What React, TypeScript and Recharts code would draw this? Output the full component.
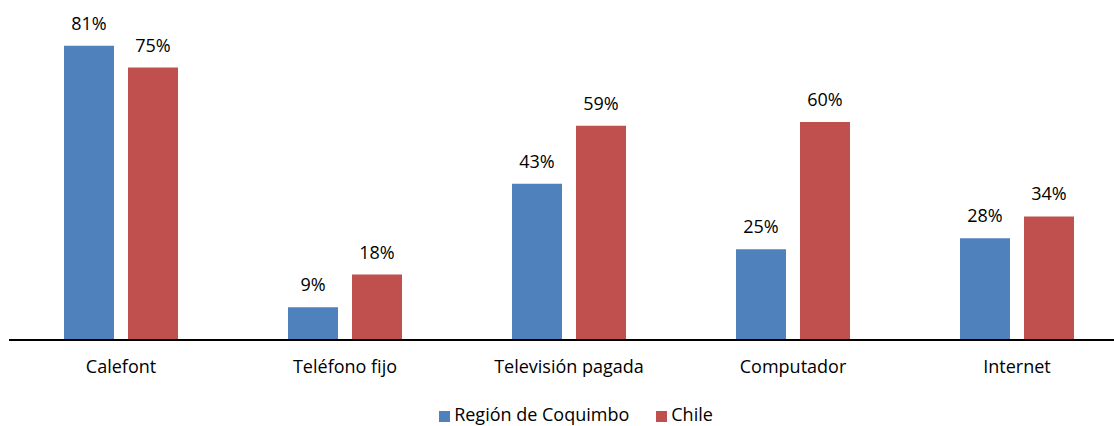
import React from 'react';
import { BarChart, Bar, XAxis, YAxis, Legend, LabelList } from 'recharts';

const categories = ['Calefont', 'Teléfono fijo', 'Televisión pagada', 'Computador', 'Internet'];
const coquimbo = [81, 9, 43, 25, 28];
const chile = [75, 18, 59, 60, 34];
const seriesOrder = ['coquimbo', 'chile'];

const data = categories.map((name, i) => ({
  name,
  coquimbo: coquimbo[i],
  chile: chile[i],
}));

const FONT = '"Open Sans", Calibri, sans-serif';

const App: React.FC = () => {
  return (
    <div style={{ position: 'absolute', left: 0, top: 0, width: 1114, height: 426, overflow: 'hidden', background: '#fff' }}>
      <BarChart
        width={1130}
        height={426}
        data={data}
        margin={{ top: 13, right: 1, left: 9, bottom: 46 }}
        barSize={50}
        barGap={14}
      >
        <XAxis
          dataKey="name"
          axisLine={{ stroke: '#000', strokeWidth: 2 }}
          tickLine={false}
          tickSize={0}
          tickMargin={20}
          height={40}
          interval={0}
          tick={{ fill: '#000', fontSize: 18, fontFamily: FONT }}
        />
        <YAxis hide domain={[0, 90]} />
        <Legend
          layout="horizontal"
          verticalAlign="middle"
          align="center"
          iconType="square"
          iconSize={11}
          itemSorter={(item: any) => seriesOrder.indexOf(item.dataKey)}
          wrapperStyle={{ top: 404, left: 0, width: 1162, fontFamily: FONT, fontSize: 18, lineHeight: '20px' }}
          formatter={(value, entry, index) => (
            <span style={{ color: '#000', marginRight: index === 0 ? 17 : 0 }}>{value}</span>
          )}
        />
        <Bar dataKey="coquimbo" name="Región de Coquimbo" fill="#4F81BD" isAnimationActive={false}>
          <LabelList
            dataKey="coquimbo"
            position="top"
            offset={16}
            formatter={(v: any) => `${v}%`}
            style={{ fill: '#000', fontSize: 18, fontFamily: FONT }}
          />
        </Bar>
        <Bar dataKey="chile" name="Chile" fill="#C0504D" isAnimationActive={false}>
          <LabelList
            dataKey="chile"
            position="top"
            offset={16}
            formatter={(v: any) => `${v}%`}
            style={{ fill: '#000', fontSize: 18, fontFamily: FONT }}
          />
        </Bar>
      </BarChart>
    </div>
  );
};

export default App;
